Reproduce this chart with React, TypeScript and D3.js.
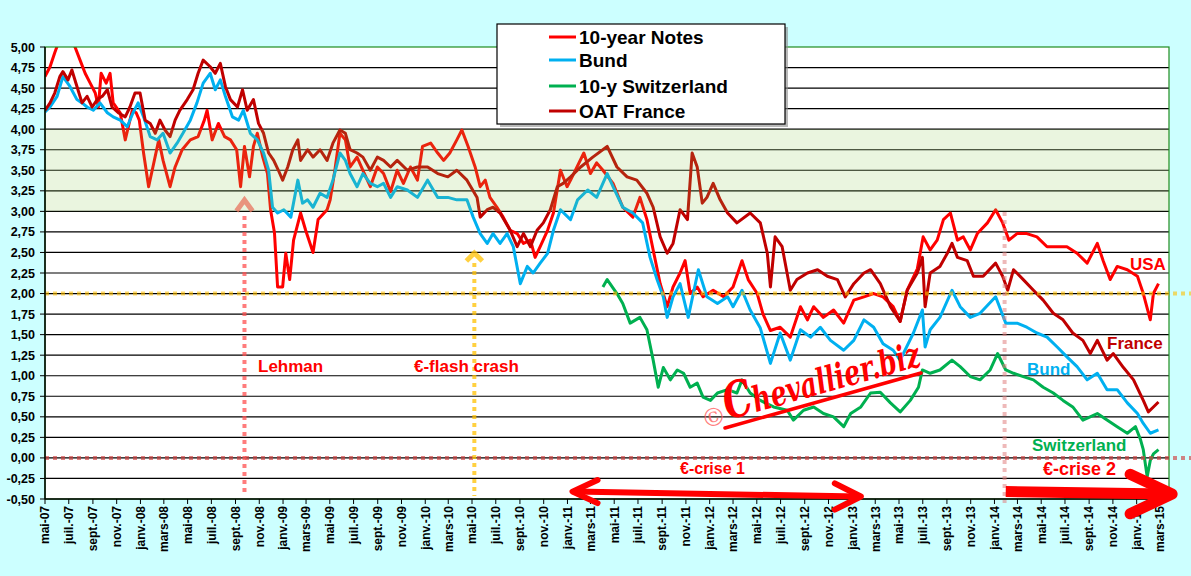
import { useEffect, useRef } from 'react';
import * as d3 from 'd3';

type Pt = [string, number];

// 10-year yields (%)
const notes10y: Pt[] = [
  ['2007-05-01', 4.64], ['2007-05-14', 4.76], ['2007-05-26', 4.93], ['2007-06-08', 5.1], ['2007-06-24', 5.2],
  ['2007-07-04', 5.1], ['2007-07-17', 5.0], ['2007-07-30', 4.84], ['2007-08-12', 4.68], ['2007-08-25', 4.56],
  ['2007-09-07', 4.44], ['2007-09-15', 4.27], ['2007-09-22', 4.68], ['2007-10-05', 4.56], ['2007-10-15', 4.68],
  ['2007-10-23', 4.32], ['2007-11-10', 4.2], ['2007-11-23', 3.87], ['2007-12-01', 4.03], ['2007-12-11', 4.23],
  ['2007-12-21', 4.2], ['2007-12-29', 4.11], ['2008-01-09', 3.71], ['2008-01-22', 3.3], ['2008-02-02', 3.54],
  ['2008-02-17', 3.87], ['2008-02-28', 3.62], ['2008-03-17', 3.3], ['2008-03-30', 3.54], ['2008-04-17', 3.75],
  ['2008-05-08', 3.87], ['2008-05-28', 3.91], ['2008-06-13', 4.11], ['2008-06-20', 4.23], ['2008-07-03', 3.87],
  ['2008-07-19', 4.07], ['2008-08-04', 3.91], ['2008-08-19', 3.87], ['2008-09-04', 3.75], ['2008-09-14', 3.3],
  ['2008-09-24', 3.79], ['2008-10-07', 3.42], ['2008-10-17', 3.79], ['2008-10-27', 3.95], ['2008-11-10', 3.66],
  ['2008-11-22', 3.46], ['2008-11-30', 3.02], ['2008-12-10', 2.74], ['2008-12-18', 2.08], ['2008-12-31', 2.08],
  ['2009-01-08', 2.49], ['2009-01-18', 2.17], ['2009-01-28', 2.65], ['2009-02-15', 2.98], ['2009-02-28', 2.77],
  ['2009-03-19', 2.5], ['2009-04-01', 2.9], ['2009-04-24', 3.02], ['2009-05-02', 3.14], ['2009-05-14', 3.5],
  ['2009-05-27', 3.95], ['2009-06-10', 3.87], ['2009-06-22', 3.54], ['2009-07-10', 3.66], ['2009-07-25', 3.5],
  ['2009-08-13', 3.3], ['2009-08-31', 3.54], ['2009-09-16', 3.46], ['2009-10-04', 3.24], ['2009-10-21', 3.5],
  ['2009-11-06', 3.34], ['2009-11-24', 3.54], ['2009-12-12', 3.38], ['2009-12-25', 3.79], ['2010-01-15', 3.83],
  ['2010-02-02', 3.71], ['2010-02-17', 3.62], ['2010-03-05', 3.71], ['2010-03-23', 3.87], ['2010-04-05', 3.99],
  ['2010-04-21', 3.79], ['2010-05-09', 3.54], ['2010-05-22', 3.3], ['2010-06-04', 3.38], ['2010-06-16', 3.17],
  ['2010-07-04', 3.05], ['2010-07-20', 2.93], ['2010-08-07', 2.77], ['2010-08-25', 2.73], ['2010-09-10', 2.61],
  ['2010-09-28', 2.65], ['2010-10-10', 2.44], ['2010-10-23', 2.57], ['2010-11-11', 2.77], ['2010-11-26', 2.98],
  ['2010-12-14', 3.5], ['2010-12-31', 3.3], ['2011-01-09', 3.38], ['2011-02-12', 3.71], ['2011-03-01', 3.46],
  ['2011-03-17', 3.59], ['2011-04-02', 3.5], ['2011-04-28', 3.34], ['2011-05-23', 3.05], ['2011-06-18', 2.93],
  ['2011-07-06', 3.17], ['2011-07-24', 2.9], ['2011-08-09', 2.53], ['2011-08-27', 2.12], ['2011-09-14', 1.84],
  ['2011-09-29', 2.08], ['2011-10-17', 2.25], ['2011-10-30', 2.4], ['2011-11-12', 2.0], ['2011-11-30', 2.08],
  ['2011-12-15', 1.96], ['2012-01-10', 2.04], ['2012-02-06', 1.96], ['2012-03-01', 2.08], ['2012-03-24', 2.4],
  ['2012-04-09', 2.17], ['2012-05-02', 2.0], ['2012-05-17', 1.75], ['2012-06-05', 1.55], ['2012-06-30', 1.59],
  ['2012-07-26', 1.47], ['2012-08-21', 1.84], ['2012-09-08', 1.68], ['2012-09-24', 1.84], ['2012-10-19', 1.71],
  ['2012-11-14', 1.8], ['2012-12-10', 1.64], ['2013-01-05', 1.92], ['2013-01-31', 1.96], ['2013-02-25', 2.0],
  ['2013-03-21', 1.96], ['2013-04-16', 1.84], ['2013-05-04', 1.66], ['2013-05-22', 2.04], ['2013-06-17', 2.3],
  ['2013-07-02', 2.69], ['2013-07-20', 2.53], ['2013-08-07', 2.65], ['2013-08-23', 2.9], ['2013-09-10', 2.98],
  ['2013-09-28', 2.65], ['2013-10-13', 2.69], ['2013-10-31', 2.53], ['2013-11-18', 2.73], ['2013-12-14', 2.86],
  ['2014-01-04', 3.02], ['2014-01-22', 2.86], ['2014-02-07', 2.65], ['2014-02-28', 2.73], ['2014-03-25', 2.73],
  ['2014-04-20', 2.69], ['2014-05-16', 2.57], ['2014-06-11', 2.57], ['2014-07-06', 2.57], ['2014-08-01', 2.49],
  ['2014-08-27', 2.37], ['2014-09-22', 2.61], ['2014-10-07', 2.4], ['2014-10-25', 2.17], ['2014-11-12', 2.33],
  ['2014-12-08', 2.29], ['2015-01-03', 2.21], ['2015-01-18', 2.0], ['2015-02-05', 1.68], ['2015-02-13', 2.0],
  ['2015-02-26', 2.12],
];

const bund: Pt[] = [
  ['2007-05-01', 4.21], ['2007-05-14', 4.27], ['2007-06-01', 4.4], ['2007-06-16', 4.64], ['2007-07-04', 4.52],
  ['2007-07-22', 4.36], ['2007-08-04', 4.32], ['2007-08-17', 4.27], ['2007-09-02', 4.23], ['2007-09-19', 4.32],
  ['2007-10-08', 4.2], ['2007-10-23', 4.15], ['2007-11-10', 4.11], ['2007-11-28', 4.03], ['2007-12-13', 4.2],
  ['2007-12-26', 4.32], ['2008-01-09', 4.15], ['2008-01-26', 3.91], ['2008-02-13', 3.87], ['2008-02-28', 3.95],
  ['2008-03-17', 3.71], ['2008-04-04', 3.83], ['2008-04-19', 3.95], ['2008-05-08', 4.11], ['2008-05-25', 4.32],
  ['2008-06-10', 4.56], ['2008-06-28', 4.68], ['2008-07-11', 4.48], ['2008-07-24', 4.6], ['2008-08-06', 4.4],
  ['2008-08-24', 4.15], ['2008-09-09', 4.11], ['2008-09-21', 4.23], ['2008-10-09', 3.95], ['2008-10-27', 3.87],
  ['2008-11-12', 3.71], ['2008-11-25', 3.5], ['2008-12-05', 3.05], ['2008-12-18', 2.98], ['2009-01-03', 3.02],
  ['2009-01-21', 2.93], ['2009-02-08', 3.38], ['2009-02-20', 3.1], ['2009-03-05', 3.14], ['2009-03-19', 3.05],
  ['2009-04-06', 3.22], ['2009-04-24', 3.17], ['2009-05-09', 3.38], ['2009-05-27', 3.71], ['2009-06-10', 3.62],
  ['2009-06-22', 3.46], ['2009-07-10', 3.3], ['2009-07-25', 3.46], ['2009-08-13', 3.34], ['2009-08-31', 3.3],
  ['2009-09-16', 3.34], ['2009-10-04', 3.17], ['2009-10-21', 3.3], ['2009-11-16', 3.26], ['2009-12-12', 3.17],
  ['2010-01-07', 3.38], ['2010-02-02', 3.17], ['2010-02-28', 3.17], ['2010-03-23', 3.14], ['2010-04-18', 3.14],
  ['2010-05-04', 2.93], ['2010-05-22', 2.73], ['2010-06-09', 2.61], ['2010-06-24', 2.73], ['2010-07-12', 2.61],
  ['2010-07-30', 2.73], ['2010-08-15', 2.57], ['2010-09-02', 2.12], ['2010-09-20', 2.33], ['2010-10-05', 2.25],
  ['2010-10-23', 2.37], ['2010-11-11', 2.49], ['2010-11-26', 2.77], ['2010-12-14', 3.02], ['2011-01-09', 2.9],
  ['2011-01-27', 3.14], ['2011-02-22', 3.26], ['2011-03-17', 3.17], ['2011-04-13', 3.46], ['2011-04-28', 3.3],
  ['2011-05-23', 3.05], ['2011-06-18', 2.98], ['2011-07-13', 2.86], ['2011-08-01', 2.44], ['2011-08-19', 2.17],
  ['2011-09-04', 1.96], ['2011-09-14', 1.71], ['2011-09-29', 1.96], ['2011-10-17', 2.12], ['2011-11-07', 1.71],
  ['2011-12-03', 2.29], ['2011-12-25', 1.96], ['2012-01-21', 1.88], ['2012-02-16', 1.96], ['2012-03-01', 1.84],
  ['2012-03-24', 2.04], ['2012-04-14', 1.8], ['2012-05-10', 1.58], ['2012-06-05', 1.15], ['2012-06-30', 1.52],
  ['2012-07-26', 1.19], ['2012-08-21', 1.56], ['2012-09-16', 1.47], ['2012-10-11', 1.59], ['2012-11-06', 1.43],
  ['2012-12-10', 1.31], ['2013-01-05', 1.43], ['2013-01-31', 1.68], ['2013-02-25', 1.59], ['2013-03-21', 1.39],
  ['2013-04-16', 1.31], ['2013-05-04', 1.19], ['2013-06-07', 1.52], ['2013-06-30', 1.8], ['2013-07-07', 1.35],
  ['2013-07-20', 1.56], ['2013-08-14', 1.71], ['2013-09-14', 2.04], ['2013-10-05', 1.84], ['2013-10-31', 1.71],
  ['2013-11-25', 1.76], ['2014-01-04', 1.96], ['2014-01-30', 1.64], ['2014-02-28', 1.64], ['2014-03-25', 1.59],
  ['2014-04-20', 1.52], ['2014-05-16', 1.47], ['2014-06-11', 1.35], ['2014-07-06', 1.23], ['2014-08-01', 1.11],
  ['2014-08-27', 0.95], ['2014-09-22', 1.03], ['2014-10-17', 0.83], ['2014-11-12', 0.83], ['2014-12-08', 0.67],
  ['2015-01-03', 0.54], ['2015-01-18', 0.42], ['2015-02-05', 0.3], ['2015-02-26', 0.34],
];

const swiss10y: Pt[] = [
  ['2011-04-02', 2.08], ['2011-04-13', 2.17], ['2011-05-08', 2.0], ['2011-05-23', 1.88], ['2011-06-11', 1.64],
  ['2011-07-06', 1.71], ['2011-07-24', 1.56], ['2011-08-09', 1.19], ['2011-08-22', 0.86], ['2011-09-04', 1.1],
  ['2011-09-22', 0.95], ['2011-10-10', 1.07], ['2011-10-26', 1.03], ['2011-11-12', 0.86], ['2011-11-30', 0.91],
  ['2011-12-15', 0.74], ['2012-01-03', 0.7], ['2012-01-21', 0.79], ['2012-02-16', 0.83], ['2012-03-11', 0.79],
  ['2012-03-24', 0.95], ['2012-04-14', 0.79], ['2012-05-10', 0.7], ['2012-06-13', 0.62], ['2012-07-18', 0.58],
  ['2012-08-03', 0.46], ['2012-08-29', 0.58], ['2012-09-24', 0.62], ['2012-10-19', 0.54], ['2012-11-14', 0.5],
  ['2012-12-10', 0.38], ['2012-12-28', 0.54], ['2013-01-23', 0.62], ['2013-02-17', 0.79], ['2013-03-14', 0.8],
  ['2013-04-09', 0.67], ['2013-05-04', 0.56], ['2013-05-30', 0.7], ['2013-06-20', 0.86], ['2013-06-30', 1.07],
  ['2013-07-20', 1.03], ['2013-08-14', 1.07], ['2013-09-14', 1.19], ['2013-10-05', 1.11], ['2013-10-31', 0.99],
  ['2013-11-25', 0.95], ['2013-12-21', 1.07], ['2014-01-09', 1.27], ['2014-01-30', 1.07], ['2014-02-19', 1.03],
  ['2014-03-16', 0.99], ['2014-04-11', 0.95], ['2014-05-06', 0.86], ['2014-06-01', 0.79], ['2014-06-26', 0.7],
  ['2014-07-21', 0.62], ['2014-08-16', 0.46], ['2014-09-22', 0.54], ['2014-10-17', 0.46], ['2014-11-12', 0.38],
  ['2014-12-08', 0.3], ['2014-12-29', 0.38], ['2015-01-11', 0.22], ['2015-01-18', 0.1], ['2015-01-28', -0.23],
  ['2015-02-05', -0.03], ['2015-02-13', 0.05], ['2015-02-26', 0.1],
];

const oatFrance: Pt[] = [
  ['2007-05-01', 4.23], ['2007-05-14', 4.32], ['2007-05-26', 4.44], ['2007-06-08', 4.64], ['2007-06-16', 4.7],
  ['2007-06-29', 4.6], ['2007-07-09', 4.72], ['2007-07-22', 4.52], ['2007-08-04', 4.32], ['2007-08-17', 4.4],
  ['2007-08-30', 4.27], ['2007-09-12', 4.36], ['2007-09-25', 4.4], ['2007-10-08', 4.48], ['2007-10-20', 4.27],
  ['2007-11-05', 4.2], ['2007-11-23', 4.15], ['2007-12-05', 4.27], ['2007-12-18', 4.44], ['2007-12-31', 4.44],
  ['2008-01-13', 4.11], ['2008-01-26', 4.07], ['2008-02-08', 3.95], ['2008-02-20', 4.11], ['2008-03-04', 3.99],
  ['2008-03-17', 3.91], ['2008-03-30', 4.11], ['2008-04-11', 4.23], ['2008-04-30', 4.36], ['2008-05-15', 4.48],
  ['2008-05-28', 4.68], ['2008-06-10', 4.84], ['2008-06-28', 4.76], ['2008-07-11', 4.68], ['2008-07-24', 4.8],
  ['2008-08-06', 4.52], ['2008-08-19', 4.36], ['2008-09-06', 4.27], ['2008-09-19', 4.48], ['2008-10-01', 4.23],
  ['2008-10-17', 4.36], ['2008-10-30', 4.07], ['2008-11-12', 3.95], ['2008-11-25', 3.71], ['2008-12-08', 3.62],
  ['2008-12-20', 3.5], ['2008-12-31', 3.38], ['2009-01-13', 3.54], ['2009-01-26', 3.75], ['2009-02-08', 3.87],
  ['2009-02-15', 3.62], ['2009-03-05', 3.75], ['2009-03-19', 3.66], ['2009-04-06', 3.75], ['2009-04-24', 3.62],
  ['2009-05-09', 3.83], ['2009-05-27', 3.99], ['2009-06-10', 3.95], ['2009-06-22', 3.75], ['2009-07-10', 3.71],
  ['2009-07-25', 3.66], ['2009-08-13', 3.5], ['2009-08-31', 3.66], ['2009-09-16', 3.62], ['2009-10-04', 3.54],
  ['2009-10-21', 3.62], ['2009-11-16', 3.5], ['2009-12-12', 3.54], ['2010-01-07', 3.54], ['2010-02-02', 3.46],
  ['2010-02-28', 3.42], ['2010-03-23', 3.5], ['2010-04-18', 3.38], ['2010-05-14', 3.17], ['2010-05-22', 2.93],
  ['2010-06-09', 3.02], ['2010-06-24', 3.05], ['2010-07-12', 2.98], ['2010-08-07', 2.77], ['2010-08-25', 2.57],
  ['2010-09-10', 2.73], ['2010-09-28', 2.57], ['2010-10-15', 2.77], ['2010-10-31', 2.86], ['2010-11-18', 3.02],
  ['2010-12-06', 3.3], ['2010-12-21', 3.34], ['2011-01-09', 3.42], ['2011-02-04', 3.54], ['2011-03-07', 3.66],
  ['2011-04-13', 3.79], ['2011-05-08', 3.54], ['2011-06-03', 3.42], ['2011-06-28', 3.38], ['2011-07-24', 3.22],
  ['2011-08-09', 3.05], ['2011-08-27', 2.69], ['2011-09-14', 2.49], ['2011-09-29', 2.61], ['2011-10-17', 3.02],
  ['2011-11-05', 2.9], ['2011-11-17', 3.71], ['2011-11-30', 3.54], ['2011-12-13', 3.1], ['2011-12-25', 3.17],
  ['2012-01-10', 3.34], ['2012-01-28', 3.14], ['2012-02-16', 2.98], ['2012-03-11', 2.86], ['2012-04-14', 2.98],
  ['2012-05-10', 2.86], ['2012-05-28', 2.49], ['2012-06-05', 2.08], ['2012-06-17', 2.69], ['2012-07-05', 2.57],
  ['2012-07-26', 2.04], ['2012-08-12', 2.17], ['2012-09-08', 2.25], ['2012-10-04', 2.29], ['2012-10-29', 2.21],
  ['2012-11-24', 2.17], ['2012-12-14', 1.96], ['2013-01-05', 2.12], ['2013-01-31', 2.25], ['2013-02-17', 2.29],
  ['2013-03-14', 2.12], ['2013-04-09', 1.84], ['2013-05-04', 1.66], ['2013-05-22', 2.04], ['2013-06-17', 2.25],
  ['2013-06-30', 2.44], ['2013-07-07', 1.84], ['2013-07-20', 2.25], ['2013-08-14', 2.33], ['2013-09-02', 2.49],
  ['2013-09-14', 2.61], ['2013-09-28', 2.44], ['2013-10-23', 2.4], ['2013-11-08', 2.21], ['2013-12-03', 2.21],
  ['2014-01-04', 2.37], ['2014-01-22', 2.21], ['2014-02-04', 2.04], ['2014-02-19', 2.29], ['2014-03-16', 2.17],
  ['2014-04-11', 2.04], ['2014-05-06', 1.92], ['2014-06-01', 1.76], ['2014-06-26', 1.68], ['2014-07-21', 1.52],
  ['2014-08-16', 1.43], ['2014-09-04', 1.27], ['2014-09-22', 1.43], ['2014-10-17', 1.19], ['2014-11-02', 1.27],
  ['2014-11-28', 1.1], ['2014-12-24', 0.95], ['2015-01-18', 0.7], ['2015-01-31', 0.56], ['2015-02-13', 0.62],
  ['2015-02-26', 0.68],
];

const seriesNames = ['10-year Notes', 'Bund', '10-y Switzerland', 'OAT France'];
const seriesColors = ['#FF0000', '#00B0F0', '#00B050', '#C00000'];
const monthLabels = ['janv.', 'févr.', 'mars', 'avr.', 'mai', 'juin', 'juil.', 'août', 'sept.', 'oct.', 'nov.', 'déc.'];
const yTickValues = [-0.5, -0.25, 0, 0.25, 0.5, 0.75, 1, 1.25, 1.5, 1.75, 2, 2.25, 2.5, 2.75, 3, 3.25, 3.5, 3.75, 4, 4.25, 4.5, 4.75, 5];

// event markers
const lehmanDate = '2008-09-24';
const flashCrashDate = '2010-05-07';
const crise2Date = '2014-01-27';
const crise1Span = ['2011-01-14', '2013-01-23'];
const crise2Span = ['2014-01-30', '2015-04-02'];

const W = 1191;
const H = 576;
const FONT = "'Liberation Sans', Arial, sans-serif";

export default function App() {
  const svgRef = useRef<SVGSVGElement>(null);

  useEffect(() => {
    if (!svgRef.current) return;
    const svg = d3.select(svgRef.current);
    svg.selectAll('*').remove();

    const left = 45, right = 1169, top = 47, bottom = 499;
    const parse = d3.timeParse('%Y-%m-%d');
    const x = d3.scaleTime()
      .domain([new Date(2007, 4, 1), new Date(2015, 2, 25)])
      .range([left, right]);
    const y = d3.scaleLinear().domain([-0.5, 5]).range([bottom, top]);
    const xd = (s: string) => x(parse(s) as Date);

    // background
    svg.append('rect').attr('width', W).attr('height', H).attr('fill', '#CCFFFF');
    svg.append('rect')
      .attr('x', left).attr('y', top)
      .attr('width', right - left).attr('height', bottom - top)
      .attr('fill', '#FFFFFF');

    svg.append('defs').append('clipPath').attr('id', 'plot-clip')
      .append('rect')
      .attr('x', left).attr('y', top)
      .attr('width', right - left).attr('height', bottom - top);

    // gridlines
    svg.append('g').selectAll('line')
      .data(yTickValues.filter(v => v > -0.5 && v < 5))
      .enter().append('line')
      .attr('x1', left).attr('x2', right)
      .attr('y1', d => y(d)).attr('y2', d => y(d))
      .attr('stroke', '#000').attr('stroke-width', 1.2);

    // series
    const line = d3.line<Pt>()
      .x(d => xd(d[0]))
      .y(d => y(d[1]));

    const lines = svg.append('g').attr('clip-path', 'url(#plot-clip)');
    [notes10y, bund, swiss10y, oatFrance].forEach((data, i) => {
      lines.append('path')
        .datum(data)
        .attr('d', line)
        .attr('fill', 'none')
        .attr('stroke', seriesColors[i])
        .attr('stroke-width', 3)
        .attr('stroke-linejoin', 'round');
    });

    // green band 3-4 %, translucent over the lines
    svg.append('rect')
      .attr('x', left).attr('y', y(4))
      .attr('width', right - left).attr('height', y(3) - y(4))
      .attr('fill', 'rgb(140,200,80)')
      .attr('fill-opacity', 0.18);

    // plot frame
    svg.append('rect')
      .attr('x', left).attr('y', top)
      .attr('width', right - left).attr('height', bottom - top)
      .attr('fill', 'none').attr('stroke', '#1E8C1E').attr('stroke-width', 1.2);

    // horizontal dotted references
    svg.append('line')
      .attr('x1', left).attr('x2', W)
      .attr('y1', y(2)).attr('y2', y(2))
      .attr('stroke', '#FFC000').attr('stroke-opacity', 0.6)
      .attr('stroke-width', 4).attr('stroke-dasharray', '4,4');
    svg.append('line')
      .attr('x1', left).attr('x2', W)
      .attr('y1', y(0)).attr('y2', y(0))
      .attr('stroke', '#D04040').attr('stroke-opacity', 0.65)
      .attr('stroke-width', 4).attr('stroke-dasharray', '4,4');

    // vertical event lines
    const vLine = (date: string, y1: number, color: string, op: number) => {
      svg.append('line')
        .attr('x1', xd(date)).attr('x2', xd(date))
        .attr('y1', y1).attr('y2', bottom - 3)
        .attr('stroke', color).attr('stroke-opacity', op)
        .attr('stroke-width', 4).attr('stroke-dasharray', '4,4');
    };
    const chevron = (date: string, tipY: number, color: string, op: number, w: number, h: number) => {
      const cx = xd(date);
      svg.append('path')
        .attr('d', `M${cx - w},${tipY + h}L${cx},${tipY}L${cx + w},${tipY + h}`)
        .attr('fill', 'none').attr('stroke', color).attr('stroke-opacity', op)
        .attr('stroke-width', 5).attr('stroke-linejoin', 'miter');
    };
    vLine(lehmanDate, 216, '#FF5050', 0.75);
    chevron(lehmanDate, 200, '#E8735E', 0.75, 8, 11);
    vLine(flashCrashDate, 263, '#FFC000', 0.75);
    chevron(flashCrashDate, 253, '#FFC000', 0.75, 8, 8);
    svg.append('line')
      .attr('x1', xd(crise2Date)).attr('x2', xd(crise2Date))
      .attr('y1', 212).attr('y2', bottom + 4)
      .attr('stroke', '#E08080').attr('stroke-opacity', 0.55)
      .attr('stroke-width', 4).attr('stroke-dasharray', '4,4');

    // axes
    svg.append('line').attr('x1', left).attr('x2', left).attr('y1', top).attr('y2', bottom)
      .attr('stroke', '#000').attr('stroke-width', 1.5);
    svg.append('line').attr('x1', left).attr('x2', right).attr('y1', bottom).attr('y2', bottom)
      .attr('stroke', '#000').attr('stroke-width', 1.5);

    const yAxis = svg.append('g');
    yAxis.selectAll('line').data(yTickValues).enter().append('line')
      .attr('x1', left - 5).attr('x2', left)
      .attr('y1', d => y(d)).attr('y2', d => y(d))
      .attr('stroke', '#000');
    yAxis.selectAll('text').data(yTickValues).enter().append('text')
      .attr('x', 35).attr('y', d => y(d)).attr('dy', '0.36em')
      .attr('text-anchor', 'end')
      .style('font-family', FONT).style('font-size', '12.5px').style('font-weight', 'bold')
      .text(d => d.toFixed(2).replace('.', ','));

    const months = d3.timeMonth.every(2)!.range(new Date(2007, 4, 1), new Date(2015, 2, 2));
    const xAxis = svg.append('g');
    xAxis.selectAll('line').data(months).enter().append('line')
      .attr('x1', d => x(d)).attr('x2', d => x(d))
      .attr('y1', bottom).attr('y2', bottom + 5)
      .attr('stroke', '#000');
    xAxis.selectAll('text').data(months).enter().append('text')
      .attr('transform', d => `translate(${x(d)},${bottom + 7}) rotate(-90)`)
      .attr('dy', '0.36em')
      .attr('text-anchor', 'end')
      .style('font-family', FONT).style('font-size', '12px').style('font-weight', 'bold')
      .text(d => `${monthLabels[d.getMonth()]}-${String(d.getFullYear()).slice(2)}`);

    // crisis arrows
    const arrows = svg.append('g').attr('fill', 'none').attr('stroke', '#FF0000')
      .attr('stroke-linecap', 'round').attr('stroke-linejoin', 'round');
    const a1 = xd(crise1Span[0]), b1 = xd(crise1Span[1]);
    arrows.append('line').attr('x1', a1 + 2).attr('y1', y(-0.41)).attr('x2', b1 - 2).attr('y2', y(-0.47))
      .attr('stroke-width', 6);
    arrows.append('path')
      .attr('d', `M${a1 + 25},${y(-0.27)}L${a1},${y(-0.41)}L${a1 + 25},${y(-0.55)}`)
      .attr('stroke-width', 6);
    arrows.append('path')
      .attr('d', `M${b1 - 26},${y(-0.31)}L${b1},${y(-0.47)}L${b1 - 26},${y(-0.63)}`)
      .attr('stroke-width', 6);
    const a2 = xd(crise2Span[0]), b2 = xd(crise2Span[1]);
    arrows.append('line').attr('x1', a2).attr('y1', y(-0.41)).attr('x2', b2 - 6).attr('y2', y(-0.44))
      .attr('stroke-width', 11).attr('stroke-linecap', 'butt');
    arrows.append('path')
      .attr('d', `M${b2 - 42},${y(-0.2)}L${b2},${y(-0.44)}L${b2 - 42},${y(-0.68)}`)
      .attr('stroke-width', 11);

    // annotation labels
    const label = (t: string, lx: number, ly: number, color: string, size: number) => {
      svg.append('text')
        .attr('x', lx).attr('y', ly)
        .attr('fill', color)
        .style('font-family', FONT).style('font-size', `${size}px`).style('font-weight', 'bold')
        .text(t);
    };
    label('Lehman', 258, 372, '#FF0000', 17);
    label('€-flash  crash', 414, 372, '#FF0000', 17);
    label('USA', 1130, 270, '#FF0000', 17);
    label('France', 1107, 349, '#C00000', 17);
    label('Bund', 1027, 375, '#00B0F0', 17);
    label('Switzerland', 1032, 451, '#00B050', 17);
    label('€-crise 1', 680, 474, '#FF0000', 16);
    label('€-crise 2', 1043, 475, '#FF0000', 18);

    // watermark
    const wm = svg.append('g').attr('transform', 'translate(728,420) rotate(-15.7)');
    wm.append('text')
      .attr('x', 0).attr('y', 0)
      .attr('fill', '#FF0000')
      .attr('textLength', 202).attr('lengthAdjust', 'spacingAndGlyphs')
      .style('font-family', "'DejaVu Serif', serif").style('font-style', 'italic').style('font-weight', 'bold')
      .style('font-size', '35px')
      .call(t => {
        t.append('tspan').style('font-size', '50px').text('C');
        t.append('tspan').text('hevallier.biz');
      });
    svg.append('text')
      .attr('transform', 'translate(704,429) rotate(-15.7)')
      .attr('fill', '#FF6060').attr('fill-opacity', 0.8)
      .style('font-family', "'DejaVu Serif', serif").style('font-size', '25px')
      .text('©');
    svg.append('line')
      .attr('x1', 725).attr('y1', 428).attr('x2', 921).attr('y2', 373)
      .attr('stroke', '#FF0000').attr('stroke-width', 3.5).attr('stroke-linecap', 'round');

    // legend
    const lg = svg.append('g').attr('transform', 'translate(497,24)');
    lg.append('rect').attr('x', 3).attr('y', 3).attr('width', 288).attr('height', 100)
      .attr('fill', '#8A8A8A').attr('fill-opacity', 0.6);
    lg.append('rect').attr('width', 288).attr('height', 100)
      .attr('fill', '#FFFFFF').attr('stroke', '#000').attr('stroke-width', 1.2);
    const rows = lg.selectAll('.row').data(seriesNames).enter().append('g')
      .attr('transform', (d, i) => `translate(0,${[13, 36, 62, 87][i]})`);
    rows.append('line')
      .attr('x1', 52).attr('x2', 79)
      .attr('stroke', (d, i) => seriesColors[i]).attr('stroke-width', 3);
    rows.append('text')
      .attr('x', 82).attr('dy', '0.36em')
      .style('font-family', FONT).style('font-size', '19px').style('font-weight', 'bold')
      .text(d => d);
  }, []);

  return (
    <svg
      ref={svgRef}
      width={W}
      height={H}
      style={{ position: 'absolute', left: 0, top: 0, display: 'block' }}
    />
  );
}
